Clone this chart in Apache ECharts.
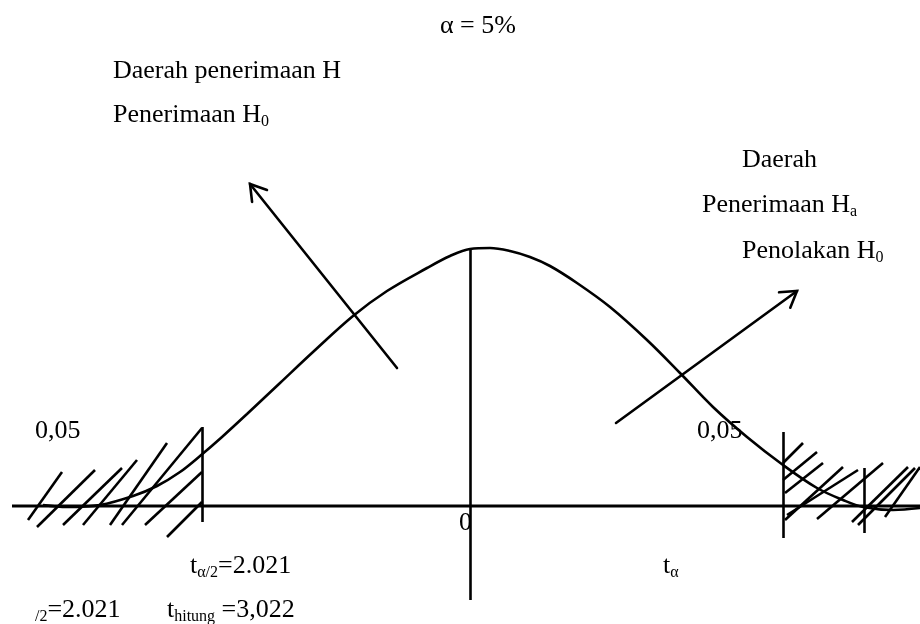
<!DOCTYPE html>
<html>
<head>
<meta charset="utf-8">
<script src="https://cdn.jsdelivr.net/npm/echarts@6/dist/echarts.min.js"></script>
<style>
html,body{margin:0;padding:0;background:#fff;}
#chart{width:920px;height:624px;}
</style>
</head>
<body>
<div id="chart"></div>
<script>
// ---- data (drawing units: x 0..920, y 0..624 downward) ----
var curveX = [43, 67, 100, 133, 157, 180, 200, 222, 247, 280, 313, 353, 387, 427, 450, 470, 490, 510, 530, 550, 577, 610, 647, 680, 713, 747, 783, 817, 843, 863, 893, 920];
var curveY = [505, 507, 505, 496, 486, 472, 456, 437, 414, 383, 352, 316, 291, 268, 256, 249, 248, 251, 257, 266, 283, 307, 340, 373, 407, 437, 465, 488, 500, 507, 510, 508];

var axisLine = [[12, 506], [920, 506]];

var verticalLines = [
  [[470, 250], [470, 600]],
  [[202, 427], [202, 522]],
  [[783, 432], [783, 538]],
  [[864, 468], [864, 533]]
];

var hatchLeft = [
  [[28, 520], [62, 472]],
  [[37, 527], [95, 470]],
  [[63, 525], [122, 468]],
  [[83, 525], [137, 460]],
  [[110, 525], [167, 443]],
  [[122, 525], [202, 428]],
  [[145, 525], [202, 472]],
  [[167, 537], [202, 502]]
];

var hatchRight = [
  [[783, 463], [803, 443]],
  [[783, 480], [817, 452]],
  [[785, 493], [823, 463]],
  [[785, 520], [843, 467]],
  [[787, 515], [858, 470]],
  [[817, 519], [883, 463]],
  [[852, 522], [908, 467]],
  [[858, 525], [915, 468]],
  [[885, 517], [920, 467]]
];

// arrows: [tailX, tailY, tipX, tipY]
var arrows = [
  [397, 368, 250, 184],
  [616, 423, 797, 291]
];

var labelTexts = [
  ['α = 5%'],
  ['Daerah penerimaan H'],
  ['Penerimaan H', '0'],
  ['Daerah'],
  ['Penerimaan H', 'a'],
  ['Penolakan H', '0'],
  ['0,05'],
  ['0,05'],
  ['0'],
  ['t', 'α/2', '=2.021'],
  ['t', 'α'],
  ['', '/2', '=2.021'],
  ['t', 'hitung', ' =3,022']
];

// ---- layout / style ----
var labelPos = [
  [440, 33], [113, 78], [113, 122], [742, 167], [702, 212], [742, 258],
  [35, 438], [697, 438], [459, 530], [190, 573], [663, 573], [35, 617], [167, 617]
];
var FAMILY = "'Liberation Serif', 'Times New Roman', 'DejaVu Serif', serif";
var MAIN = 26, SUB = 16, SUBDY = 4;

var measureCtx = document.createElement('canvas').getContext('2d');
function textWidth(t, size) {
  measureCtx.font = size + 'px ' + FAMILY;
  return measureCtx.measureText(t).width;
}

var graphics = [];
labelTexts.forEach(function (segs, i) {
  var x = labelPos[i][0], base = labelPos[i][1];
  segs.forEach(function (t, j) {
    if (!t) return;
    var isSub = (j % 2 === 1);
    var size = isSub ? SUB : MAIN;
    var b = base + (isSub ? SUBDY : 0);
    graphics.push({
      type: 'text',
      x: x,
      y: b - 0.25 * size,
      silent: true,
      style: {
        text: t,
        font: size + 'px ' + FAMILY,
        fill: '#000',
        align: 'left',
        verticalAlign: 'middle'
      }
    });
    x += textWidth(t, size);
  });
});

var curveData = curveX.map(function (x, i) { return [x, curveY[i]]; });
function toLines(arr) { return arr.map(function (c) { return { coords: c }; }); }

var LW = 2.6;
var chart = echarts.init(document.getElementById('chart'), null, { renderer: 'canvas' });
chart.setOption({
  animation: false,
  backgroundColor: '#fff',
  grid: { left: 0, right: 0, top: 0, bottom: 0 },
  xAxis: { type: 'value', min: 0, max: 920, show: false },
  yAxis: { type: 'value', min: 0, max: 624, inverse: true, show: false },
  graphic: graphics,
  series: [
    {
      type: 'line', data: axisLine, symbol: 'none', silent: true,
      lineStyle: { color: '#000', width: 3 }
    },
    {
      type: 'line', data: curveData, symbol: 'none', smooth: 0.35, silent: true,
      lineStyle: { color: '#000', width: LW }
    },
    {
      type: 'lines', coordinateSystem: 'cartesian2d', data: toLines(verticalLines), silent: true,
      lineStyle: { color: '#000', width: LW, opacity: 1 }
    },
    {
      type: 'lines', coordinateSystem: 'cartesian2d', data: toLines(hatchLeft.concat(hatchRight)), silent: true,
      lineStyle: { color: '#000', width: LW, opacity: 1 }
    },
    {
      type: 'custom', data: arrows, silent: true,
      renderItem: function (params, api) {
        var a = api.coord([api.value(0), api.value(1)]);
        var b = api.coord([api.value(2), api.value(3)]);
        var dx = a[0] - b[0], dy = a[1] - b[1];
        var len = Math.sqrt(dx * dx + dy * dy);
        var ux = dx / len, uy = dy / len;
        var hl = 18, ang = 32 * Math.PI / 180;
        function rot(t) {
          var c = Math.cos(t), s = Math.sin(t);
          return [b[0] + hl * (ux * c - uy * s), b[1] + hl * (ux * s + uy * c)];
        }
        var style = { stroke: '#000', lineWidth: LW, fill: null, lineCap: 'round', lineJoin: 'miter' };
        return {
          type: 'group',
          children: [
            { type: 'line', shape: { x1: a[0], y1: a[1], x2: b[0], y2: b[1] }, style: style },
            { type: 'polyline', shape: { points: [rot(ang), b, rot(-ang)] }, style: style }
          ]
        };
      }
    }
  ]
});
</script>
</body>
</html>
